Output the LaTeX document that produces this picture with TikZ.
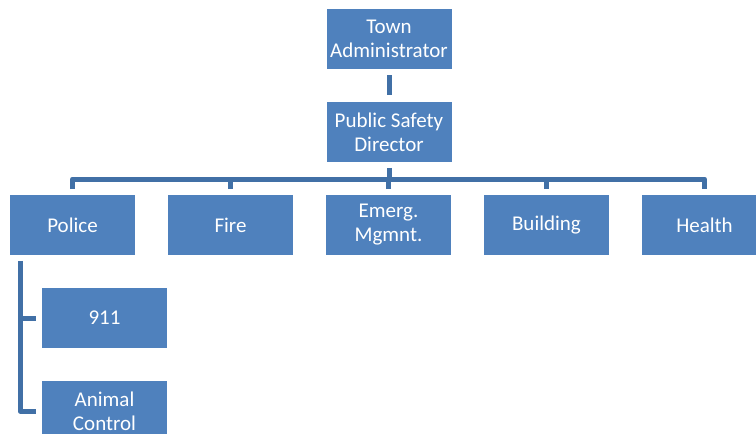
\documentclass[tikz,border=0pt]{standalone}
\usepackage{fontspec}
\setmainfont{Carlito}
\usetikzlibrary{calc}
\definecolor{boxblue}{HTML}{4F81BD}
\definecolor{linkblue}{HTML}{4170A6}
\begin{document}
\begin{tikzpicture}[x=1pt,y=-1pt,
  unit/.style={rectangle, fill=boxblue, draw=white, line width=0.8pt,
    minimum width=126pt, minimum height=61pt, inner sep=2pt,
    text=white, align=center,
    font=\fontsize{21}{24}\selectfont},
  conn/.style={draw=linkblue, line width=5pt, line join=round}]
\useasboundingbox (0,0) rectangle (756,434);
\clip (0,0) rectangle (756,434);

% top of the chart
\node[unit] (town) at (389,38.5) {Town\\Administrator};
\node[unit] (psd) at (389,132) {Public Safety\\Director};

% divisions
\node[unit] (police) at (72.5,225) {Police};
\node[unit] (fire) at (230.5,225) {Fire};
\node[unit] (emerg) at (388.5,225) {Emerg.\\Mgmnt.};
\node[unit] (building) at (546.5,225) {Building};
\node[unit] (health) at (704.5,225) {Health};

% police units
\node[unit] (n911) at (104.5,318) {911};
\node[unit] (animal) at (104.5,411) {Animal\\Control};

\coordinate (bar) at (0,179);
\coordinate (trunk) at (20,0);

% links
\draw[conn] ($(town.south)+(0,6)$) -- ($(psd.north)-(0,6)$);
\draw[conn] ($(psd.south)+(0,5)$) -- (psd.south |- bar);
\draw[conn] ($(police.north)-(0,5)$) -- (police.north |- bar)
  -- (health.north |- bar) -- ($(health.north)-(0,5)$);
\foreach \n in {fire,emerg,building}
  \draw[conn] ($(\n.north)-(0,5)$) -- (\n.north |- bar);

\draw[conn] (trunk |- {$(police.south)+(0,5)$}) -- (trunk |- animal.west)
  -- ($(animal.west)-(5,0)$);
\draw[conn] (trunk |- n911.west) -- ($(n911.west)-(5,0)$);
\end{tikzpicture}
\end{document}
